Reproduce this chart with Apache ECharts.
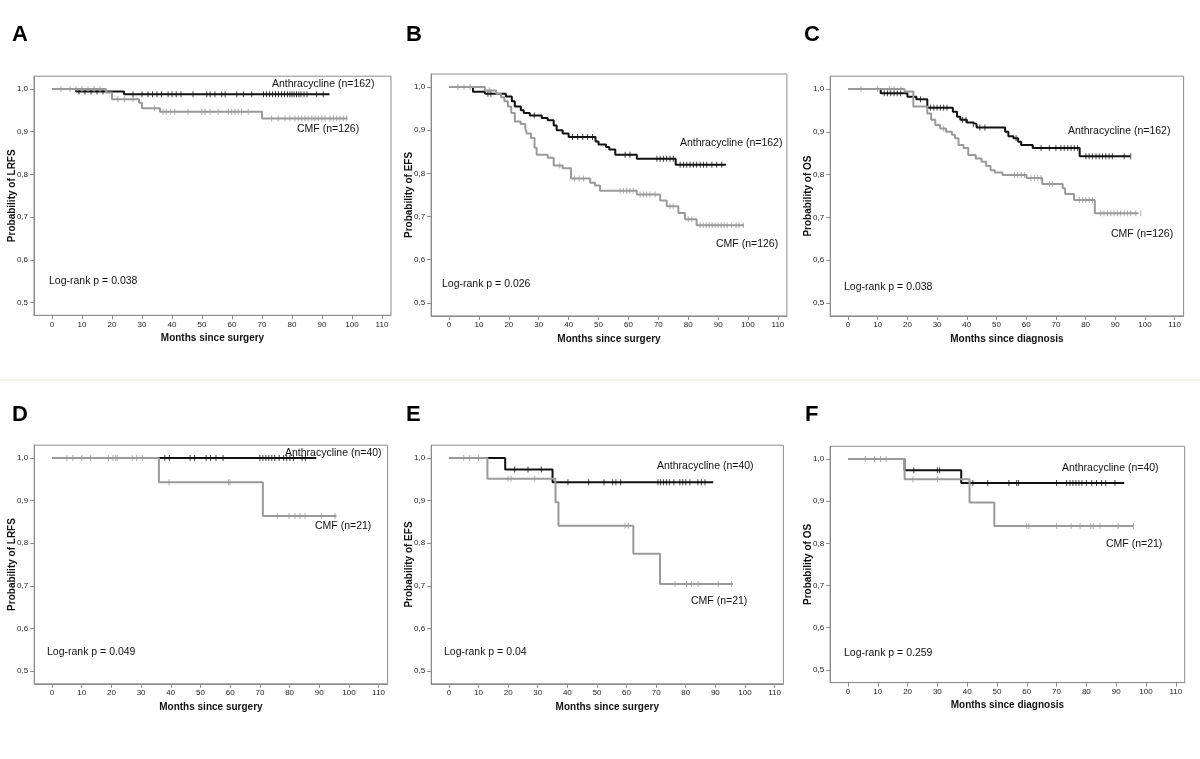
<!DOCTYPE html>
<html><head><meta charset="utf-8">
<script src="https://cdn.jsdelivr.net/npm/echarts@6/dist/echarts.min.js"></script>
<style>html,body{margin:0;padding:0;background:#fff}#c{width:1200px;height:759px}</style>
</head><body><div id="c"></div><script>
// ---------- DATA ----------
const xTicks = [0,10,20,30,40,50,60,70,80,90,100,110];
const yTicks = [0.5,0.6,0.7,0.8,0.9,1.0];

// Panel A (LRFS, all patients)
const aAnthraSteps = [[0,1],[8,0.994],[24,0.988],[92.5,0.988]];
const aAnthraCensors = [9,11,13,15,17,27,30,32,33.5,35,36.5,38.7,40,41.4,43,47,51.6,52.7,54.3,56.6,57.7,61.6,63.8,66.6,70.5,71.5,72.5,73.5,74.5,75.5,76.5,77.5,78.5,79.3,80,80.7,81.5,82.3,83,84,85,88.2,90.4];
const aCmfSteps = [[0,1],[18,0.992],[20,0.976],[29,0.968],[30,0.955],[36,0.947],[70,0.931],[98.5,0.931]];
const aCmfCensors = [3,6,8,10,12,14,16,22,24.2,27,34.2,37,38.1,39.4,40.9,45.3,49.9,51,52.7,55.4,58.8,59.9,61,62.1,63.2,65.4,73.2,75.4,77.7,79.3,81,82.1,83.2,84.3,85.4,86.6,87.7,88.8,89.9,91,92.7,93.8,94.9,96,97.1,98.2];

// Panel B (EFS, all patients)
const bAnthraSteps = [[0,1],[8,0.989],[12,0.984],[19,0.978],[21,0.967],[22,0.955],[24,0.946],[25,0.94],[27,0.934],[31,0.928],[33,0.923],[35,0.911],[36,0.9],[38,0.892],[40,0.884],[49,0.874],[50,0.867],[52.5,0.861],[53.6,0.855],[55.6,0.843],[62.8,0.834],[75.8,0.82],[92.6,0.82]];
const bAnthraCensors = [13,14,28.5,41.3,43,44.7,46.3,48,58.9,60.5,69.5,70.6,71.7,72.8,73.9,75,77.3,78.4,79.5,80.6,81.7,82.8,84,85.1,86.2,87.9,89.5,91.2];
const bCmfSteps = [[0,1],[12,0.992],[15.8,0.984],[17.4,0.976],[18.5,0.967],[19.7,0.955],[20.8,0.94],[22,0.92],[24,0.914],[25.5,0.905],[26,0.892],[27.4,0.882],[28.6,0.859],[29.3,0.843],[33,0.836],[35,0.818],[38,0.812],[40.8,0.788],[47.2,0.778],[48.8,0.772],[50.5,0.76],[62.8,0.751],[70.6,0.737],[72.8,0.724],[76.7,0.708],[78.9,0.694],[82.8,0.68],[98.6,0.68]];
const bCmfCensors = [3,5,7,13.5,37,42,43.5,45,57.2,58.3,59.4,60.5,61.6,63.9,65,66.1,67.2,68.9,73.9,75,80,81.2,84,85,86,87,88,89,90,91,92,93,94.5,96,97,98.4];

// Panel C (OS, all patients)
const cAnthraSteps = [[0,1],[11,0.99],[20,0.982],[23,0.976],[26.7,0.956],[35.3,0.947],[36.7,0.935],[37.8,0.928],[40,0.922],[41.7,0.918],[43.3,0.91],[52.9,0.9],[54,0.89],[55.7,0.885],[57.3,0.877],[58.3,0.869],[62.2,0.862],[78,0.843],[95,0.843]];
const cAnthraCensors = [12.2,13.3,14.4,15.5,16.6,17.7,24.4,27.8,28.9,30,31.1,32.2,33.3,38.6,39.7,42.2,44.4,46.1,56.6,65,67.8,70,71.7,72.8,74,75.1,76.2,77.3,80.1,81.2,82.3,83.5,84.6,85.7,86.8,87.9,89,93,95.2];
const cCmfSteps = [[0,1],[19,0.994],[22,0.959],[26.7,0.943],[28,0.928],[29.4,0.916],[31,0.908],[33,0.9],[35,0.893],[36,0.885],[37.2,0.869],[38.9,0.862],[40.5,0.846],[43,0.838],[45,0.83],[46.5,0.82],[48,0.81],[49.4,0.805],[52,0.799],[60.1,0.792],[65.4,0.778],[72.3,0.768],[73.1,0.755],[76.1,0.741],[83.1,0.71],[97.8,0.71]];
const cCmfCensors = [4.4,10,13.9,15.5,17.8,32.2,56,57.1,58.3,59.4,61.6,62.8,63.9,65,67.8,68.9,77.9,79,80.1,81.2,82.3,85.1,86.2,87.4,88.5,89.6,90.7,91.8,93,94.1,95.2,96.9,98.6];

// Panel D (LRFS, subgroup)
const dAnthraSteps = [[0,1],[89,1]];
const dAnthraCensors = [38,39.5,46.5,48,51.9,53.4,55.2,57.6,70,71,72,73,74,75,76.5,78,79,80.1,81.3,84.2,85.3];
const dCmfSteps = [[0,1],[36,0.943],[71,0.864],[95.8,0.864]];
const dCmfCensors = [5,7,10,13,19,20.5,21.5,22,27,28.5,30.5,39.4,59.4,59.9,75.9,79.8,81.8,83.5,85.2,90.8,95.3];

// Panel E (EFS, subgroup)
const eAnthraSteps = [[0,1],[19,0.973],[35,0.943],[89.3,0.943]];
const eAnthraCensors = [22.2,26.7,31.2,40.2,47.2,52.4,55.3,56.4,58,70.6,71.5,72.5,73.5,74.5,76,78,79,80,81.4,84.1,85.3,86.5];
const eCmfSteps = [[0,1],[13,0.951],[36,0.896],[37,0.841],[62.3,0.775],[71.3,0.704],[96,0.704]];
const eCmfCensors = [5,7,10,20,21,29,59.5,60.6,76.4,80.3,82,84.2,91,95.5];

// Panel F (OS, subgroup)
const fAnthraSteps = [[0,1],[19,0.973],[38,0.943],[92.7,0.943]];
const fAnthraCensors = [22.1,30,30.7,41.9,46.9,54,56.6,57.2,70,73.4,74.5,75.5,76.5,77.5,78.5,80,81.8,83.4,85.1,86.5,89.6];
const fCmfSteps = [[0,1],[19,0.952],[40.8,0.897],[49.1,0.841],[95.8,0.841]];
const fCmfCensors = [5.8,8.9,10.9,12.8,21.8,30,60,60.7,70,74.9,77.9,81.5,82.3,84.6,90.7,95.8];

const panelLetters = ['A','B','C','D','E','F'];
const yTitles = ['Probability of LRFS','Probability of EFS','Probability of OS','Probability of LRFS','Probability of EFS','Probability of OS'];
const xTitles = ['Months since surgery','Months since surgery','Months since diagnosis','Months since surgery','Months since surgery','Months since diagnosis'];
const anthraLabels = ['Anthracycline (n=162)','Anthracycline (n=162)','Anthracycline (n=162)','Anthracycline (n=40)','Anthracycline (n=40)','Anthracycline (n=40)'];
const cmfLabels = ['CMF (n=126)','CMF (n=126)','CMF (n=126)','CMF (n=21)','CMF (n=21)','CMF (n=21)'];
const logRank = ['Log-rank p = 0.038','Log-rank p = 0.026','Log-rank p = 0.038','Log-rank p = 0.049','Log-rank p = 0.04','Log-rank p = 0.259'];

// ---------- LAYOUT ----------
const FONT = '"Liberation Sans", Arial, sans-serif';
const panels = [
  {anS:aAnthraSteps, anC:aAnthraCensors, cmS:aCmfSteps, cmC:aCmfCensors, g:{left:34, top:76.2, width:357, height:239.1}, letter:[12,35], an:[272,84], cm:[297,129], lr:[49,281]},
  {anS:bAnthraSteps, anC:bAnthraCensors, cmS:bCmfSteps, cmC:bCmfCensors, g:{left:431.1, top:74, width:355.8, height:241.9}, letter:[406,35], an:[680,143], cm:[716,244], lr:[442,284]},
  {anS:cAnthraSteps, anC:cAnthraCensors, cmS:cCmfSteps, cmC:cCmfCensors, g:{left:830.2, top:76.2, width:353.4, height:239.7}, letter:[804,35], an:[1068,131], cm:[1111,234], lr:[844,287]},
  {anS:dAnthraSteps, anC:dAnthraCensors, cmS:dCmfSteps, cmC:dCmfCensors, g:{left:34.2, top:445.2, width:353.4, height:238.6}, letter:[12,415], an:[285,453], cm:[315,526], lr:[47,652]},
  {anS:eAnthraSteps, anC:eAnthraCensors, cmS:eCmfSteps, cmC:eCmfCensors, g:{left:431.2, top:445.2, width:352.2, height:238.6}, letter:[406,415], an:[657,466], cm:[691,601], lr:[444,652]},
  {anS:fAnthraSteps, anC:fAnthraCensors, cmS:fCmfSteps, cmC:fCmfCensors, g:{left:830.1, top:446.3, width:354.6, height:236.3}, letter:[805,415], an:[1062,468], cm:[1106,544], lr:[844,653]}
];

function valueAt(steps, t) {
  let v = steps[0][1];
  for (const s of steps) { if (s[0] <= t) v = s[1]; }
  return v;
}

const BLACK = '#111';
const GRAY = '#9a9a9a';
const AXIS = '#8c8c8c';

const grid = [], xAxis = [], yAxis = [], series = [], graphic = [];
panels.forEach((p, i) => {
  grid.push(Object.assign({show:true, borderColor:AXIS, borderWidth:1, backgroundColor:'#fff', containLabel:false}, p.g));
  xAxis.push({
    type:'value', gridIndex:i, min:-6, max:113, position:'bottom',
    axisLine:{show:true, onZero:false, lineStyle:{color:AXIS, width:1}},
    axisTick:{show:true, inside:false, length:4, customValues:xTicks, lineStyle:{color:AXIS}},
    axisLabel:{show:true, customValues:xTicks, margin:5, fontSize:8, fontFamily:FONT, color:'#222'},
    splitLine:{show:false},
    name:xTitles[i], nameLocation:'middle', nameGap:18, nameMoveOverlap:false,
    nameTextStyle:{fontSize:10, fontWeight:'bold', fontFamily:FONT, color:'#111'}
  });
  yAxis.push({
    type:'value', gridIndex:i, min:0.47, max:1.03, position:'left',
    axisLine:{show:true, onZero:false, lineStyle:{color:AXIS, width:1}},
    axisTick:{show:true, inside:false, length:4, customValues:yTicks, lineStyle:{color:AXIS}},
    axisLabel:{show:true, customValues:yTicks, margin:6, fontSize:8, fontFamily:FONT, color:'#222',
      formatter:v => v.toFixed(1).replace('.', ',')},
    splitLine:{show:false},
    name:yTitles[i], nameLocation:'middle', nameGap:17, nameMoveOverlap:false,
    nameTextStyle:{fontSize:10, fontWeight:'bold', fontFamily:FONT, color:'#111'}
  });
  series.push({type:'line', xAxisIndex:i, yAxisIndex:i, step:'end', data:p.anS, showSymbol:false,
    lineStyle:{color:BLACK, width:2}, z:3, silent:true});
  series.push({type:'scatter', xAxisIndex:i, yAxisIndex:i, symbol:'rect', symbolSize:[1,6],
    data:p.anC.map(t => [t, valueAt(p.anS, t)]), itemStyle:{color:BLACK}, z:3, silent:true});
  series.push({type:'line', xAxisIndex:i, yAxisIndex:i, step:'end', data:p.cmS, showSymbol:false,
    lineStyle:{color:GRAY, width:2}, z:4, silent:true});
  series.push({type:'scatter', xAxisIndex:i, yAxisIndex:i, symbol:'rect', symbolSize:[1,6],
    data:p.cmC.map(t => [t, valueAt(p.cmS, t)]), itemStyle:{color:GRAY}, z:4, silent:true});

  graphic.push({type:'text', x:p.letter[0], y:p.letter[1], style:{text:panelLetters[i], font:'bold 22px ' + FONT, fill:'#000', textVerticalAlign:'middle'}});
  graphic.push({type:'text', x:p.an[0], y:p.an[1], style:{text:anthraLabels[i], font:'10.5px ' + FONT, fill:'#111', textVerticalAlign:'middle'}, z:10});
  graphic.push({type:'text', x:p.cm[0], y:p.cm[1], style:{text:cmfLabels[i], font:'10.5px ' + FONT, fill:'#111', textVerticalAlign:'middle'}, z:10});
  graphic.push({type:'text', x:p.lr[0], y:p.lr[1], style:{text:logRank[i], font:'10.5px ' + FONT, fill:'#111', textVerticalAlign:'middle'}, z:10});
});
graphic.push({type:'line', shape:{x1:0, y1:380, x2:1200, y2:380}, style:{stroke:'#e9e6d6', lineWidth:1}});

const chart = echarts.init(document.getElementById('c'), null, {renderer:'canvas'});
chart.setOption({animation:false, backgroundColor:'#fff', grid, xAxis, yAxis, series, graphic});
</script></body></html>
